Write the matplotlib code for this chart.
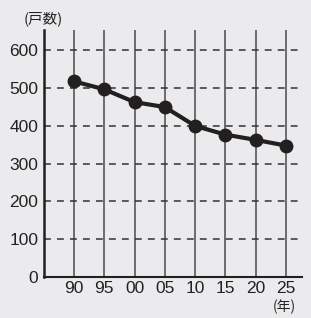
import matplotlib.pyplot as plt

plt.rcParams['font.family'] = ['Liberation Sans', 'Noto Sans CJK JP', 'DejaVu Sans']

# data
years = ["90", "95", "00", "05", "10", "15", "20", "25"]
households = [518, 497, 463, 450, 400, 377, 363, 348]
yticks = [0, 100, 200, 300, 400, 500, 600]

bg = "#ebebed"
ink = "#231f20"

fig = plt.figure(figsize=(3.11, 3.18), dpi=100, facecolor=bg)
ax = fig.add_axes([44 / 311, 1 - 277 / 318, (301.7 - 44) / 311, (277 - 30) / 318])
ax.set_facecolor(bg)

x = list(range(len(years)))

# grid lines
for xi in x:
    ax.axvline(xi, color="#4a4a4a", lw=1.1, zorder=1)
for yv in yticks[1:]:
    ax.axhline(yv, color="#333333", lw=1.1, ls=(0, (4.5, 4)), zorder=1)

ax.plot(x, households, color=ink, lw=3, marker="o", markersize=9, zorder=3)

ax.set_xlim(-0.99, 7.52)
ax.set_ylim(0, 654)
ax.set_xticks(x)
ax.set_xticklabels(years)
ax.set_yticks(yticks)

ax.tick_params(axis="both", length=0, labelsize=12.5, colors="#222222")
ax.tick_params(axis="y", pad=4)
ax.tick_params(axis="x", pad=3)

for side in ["top", "right"]:
    ax.spines[side].set_visible(False)
ax.spines["left"].set_linewidth(1.8)
ax.spines["bottom"].set_linewidth(1.5)
ax.spines["left"].set_color(ink)
ax.spines["bottom"].set_color(ink)

cjk = ['Noto Sans CJK JP', 'DejaVu Sans']
fig.text(43 / 311, 1 - 19 / 318, "(戸数)", ha="center", va="center", fontsize=10.5,
         color="#222222", family=cjk)
fig.text(284 / 311, 1 - 307 / 318, "(年)", ha="center", va="center", fontsize=10,
         color="#222222", family=cjk)

fig.savefig("out.png", dpi=100, facecolor=bg)
